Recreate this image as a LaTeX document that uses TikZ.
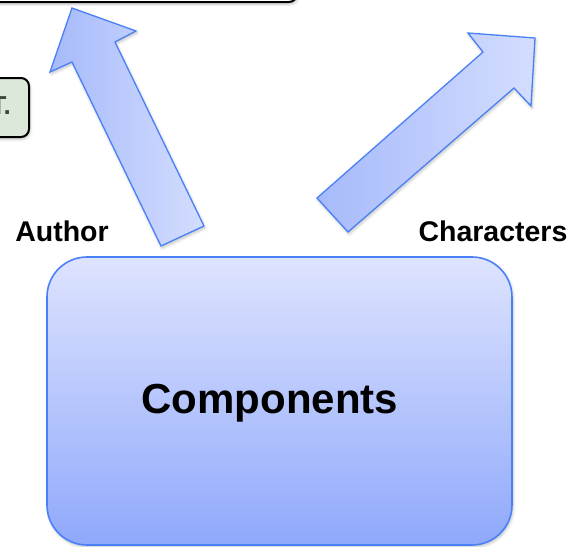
\documentclass[tikz,border=0pt]{standalone}
\usepackage{fontspec}
\setmainfont{Liberation Sans}
\usetikzlibrary{shadows.blur}
\definecolor{edgeblue}{HTML}{4A80F5}
\definecolor{boxtop}{HTML}{DEE4FE}
\definecolor{boxbot}{HTML}{8FA8FB}
\definecolor{arrlight}{HTML}{D4DDFE}
\definecolor{arrdark}{HTML}{A6BAFB}
\definecolor{greenfill}{HTML}{DCE8DA}
\definecolor{greentextc}{HTML}{3A4A3A}
\tikzset{
  softshadow/.style={blur shadow={shadow blur steps=6, shadow xshift=1pt, shadow yshift=-2pt, shadow opacity=25, shadow blur radius=3pt}},
  bigbox/.style={draw=edgeblue, line width=1.6pt, rounded corners=40pt, top color=boxtop, bottom color=boxbot, softshadow},
  blockarrow/.style={draw=edgeblue, line width=1.3pt, line join=miter, left color=arrdark, right color=arrlight, softshadow},
  blackbox/.style={draw=black, line width=2pt, rounded corners=8pt, fill=white, softshadow},
  greenbox/.style={draw=black, line width=2pt, rounded corners=8pt, fill=greenfill, softshadow},
  lbl/.style={font=\bfseries\fontsize{28.5}{30}\selectfont, inner sep=0pt},
  bigtext/.style={font=\bfseries\fontsize{42}{46}\selectfont, inner sep=0pt},
}
\begin{document}
\begin{tikzpicture}[x=1pt, y=-1pt]
\useasboundingbox (0,0) rectangle (574,547);
% top (cropped) box
\draw[blackbox] (-30,-80) rectangle (297,2);
% green (cropped) box
\node[greenbox, minimum width=70pt, minimum height=59pt, inner sep=0pt] (green) at (-6,107.5) {};
\node[inner sep=0pt, anchor=base east, font=\bfseries\fontsize{26}{28}\selectfont, text=greentextc] (greentext) at (11,114) {T.};
% main box
\node[bigbox, minimum width=465pt, minimum height=288pt, inner sep=0pt] (comp) at (279.5,401) {};
\node[bigtext] (comptext) at (270,403) {Components};
% labels
\node[lbl] (author) at (62,231) {Author};
\node[lbl] (chars) at (493,231) {Characters};
% left block arrow
\coordinate (la1) at (161,246);
\coordinate (la2) at (204,226);
\coordinate (la3) at (115,42);
\coordinate (la4) at (136,31);
\coordinate (la5) at (72,8);
\coordinate (la6) at (50,72);
\coordinate (la7) at (72,62);
\draw[blockarrow] (la1) -- (la2) -- (la3) -- (la4) -- (la5) -- (la6) -- (la7) -- cycle;
% right block arrow
\coordinate (ra1) at (348,232);
\coordinate (ra2) at (317,198);
\coordinate (ra3) at (483,52);
\coordinate (ra4) at (468,33);
\coordinate (ra5) at (535,38);
\coordinate (ra6) at (531,106);
\coordinate (ra7) at (514,88);
\draw[blockarrow] (ra1) -- (ra2) -- (ra3) -- (ra4) -- (ra5) -- (ra6) -- (ra7) -- cycle;
\end{tikzpicture}
\end{document}
